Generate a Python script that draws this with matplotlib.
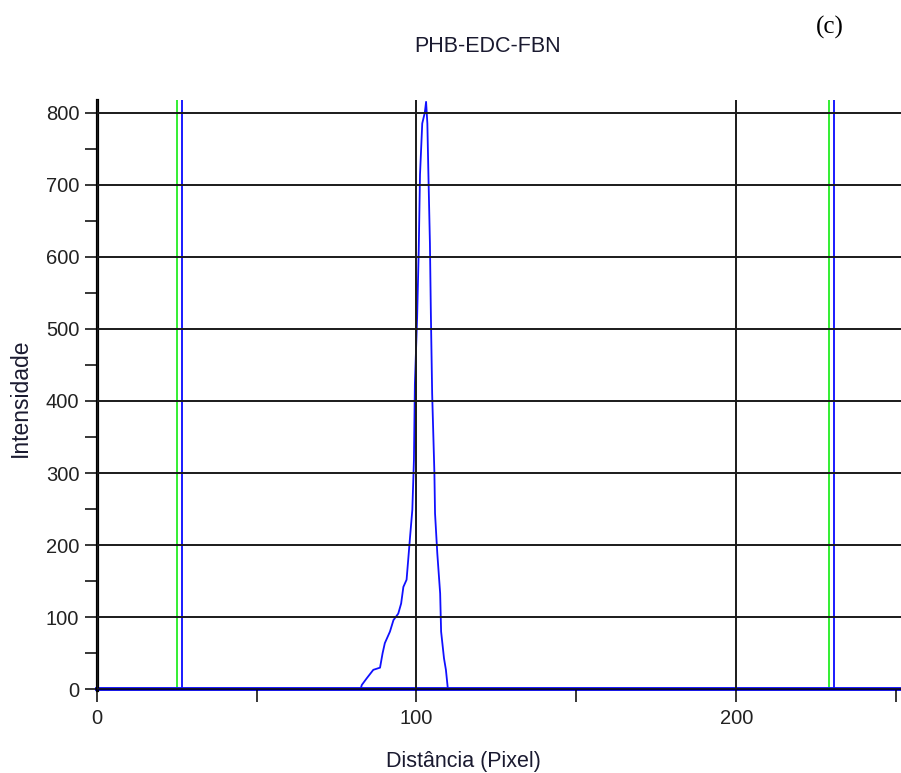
import matplotlib
matplotlib.use("Agg")
import matplotlib.pyplot as plt
from matplotlib.ticker import MultipleLocator

TITLE  = "PHB-EDC-FBN"
PANEL  = "(c)"
XLABEL = "Distância (Pixel)"
YLABEL = "Intensidade"

# intensity profile (distance in pixels, intensity)
prof_x = [0, 82.5, 82.9, 84.4, 86.5, 88.6, 89.4, 90.1, 91.7, 92.8, 94.3, 95.2,
          95.9, 96.9, 97.4, 98.0, 98.7, 99.2, 99.5, 100.2, 100.7, 101.1, 101.8,
          102.6, 103.0, 103.4, 103.7, 104.2, 104.5, 104.9, 105.6, 105.8, 106.5,
          107.4, 107.7, 108.6, 109.2, 109.8, 110.0, 251.5]
prof_y = [0, 0, 6, 15, 27, 30, 50, 64, 80, 96, 105, 119,
          142, 152, 179, 212, 249, 318, 424, 516, 609, 714, 785,
          800, 815, 785, 720, 619, 520, 410, 300, 244, 189,
          133, 80, 43, 27, 1, 0, 0]

# region markers (green / blue vertical lines)
green_marks = [25.1, 228.9]
blue_marks  = [26.8, 230.6]

XMAX = 251.5
YMIN, YMAX = -1.5, 817.6

fig = plt.figure(figsize=(9.01, 7.73), dpi=100)
ax = fig.add_axes([0.1073, 0.1069, 0.8927, 0.7638])

for xm in green_marks:
    ax.axvline(xm, color="#33ee33", lw=1.4, zorder=1.5)
for xm in blue_marks:
    ax.axvline(xm, color="#1a1aff", lw=1.4, zorder=1.5)

ax.axhline(0, color="#1010ff", lw=2.8, zorder=1.8, clip_on=False)
ax.plot(prof_x, prof_y, color="#1010ff", lw=1.3, zorder=2)
ax.axhline(0, color="#000040", lw=0.9, zorder=3, clip_on=False)

ax.set_xlim(0, XMAX)
ax.set_ylim(YMIN, YMAX)

ax.xaxis.set_major_locator(MultipleLocator(100))
ax.xaxis.set_minor_locator(MultipleLocator(50))
ax.yaxis.set_major_locator(MultipleLocator(100))
ax.yaxis.set_minor_locator(MultipleLocator(50))

ax.set_axisbelow(False)
ax.grid(True, which="major", color="#1a1a1a", lw=1.4)

for s in ["top", "right", "bottom"]:
    ax.spines[s].set_visible(False)
ax.spines["left"].set_linewidth(2.3)
ax.spines["left"].set_color("black")

ax.tick_params(axis="both", which="both", direction="out", length=8.5,
               width=1.1, color="black", labelcolor="#222222")
ax.tick_params(axis="x", pad=5)
ax.tick_params(axis="y", pad=4)
for lab in ax.get_xticklabels() + ax.get_yticklabels():
    lab.set_fontfamily("Liberation Sans")
    lab.set_fontsize(14.5)

fig.text(488 / 901, 1 - 47 / 773, TITLE, ha="center", va="center",
         fontsize=15.5, family="Liberation Sans", color="#1a1a30")
fig.text(830 / 901, 1 - 27 / 773, PANEL, ha="center", va="center",
         fontsize=18, family="Liberation Serif", color="black")
fig.text(463 / 901, 1 - 762 / 773, XLABEL, ha="center", va="center",
         fontsize=15.5, family="Liberation Sans", color="#1a1a30")
fig.text(20 / 901, 1 - 398 / 773, YLABEL, ha="center", va="center",
         rotation=90, fontsize=16.5, family="Liberation Sans", color="#1a1a30")

fig.savefig("out.png", dpi=100)
